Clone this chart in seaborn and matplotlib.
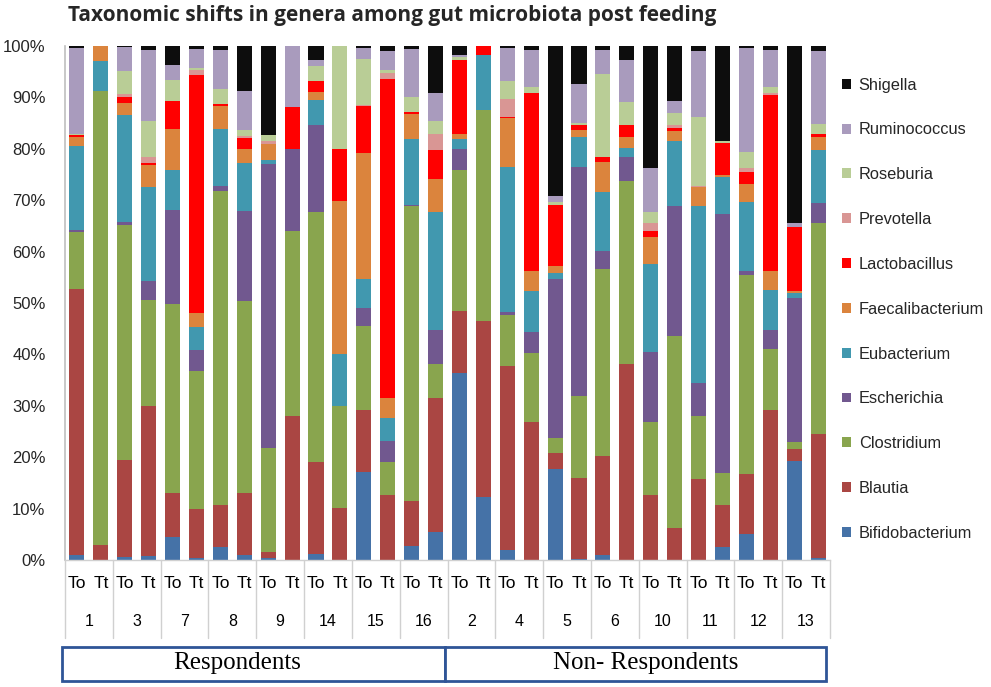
import matplotlib
matplotlib.use("Agg")
import matplotlib.pyplot as plt
import seaborn as sns
import pandas as pd
import numpy as np
from matplotlib.patches import Rectangle

# ---- data ----
patients = ["1", "3", "7", "8", "9", "14", "15", "16",
            "2", "4", "5", "6", "10", "11", "12", "13"]
timepoints = ["To", "Tt"]
groups = ["Respondents", "Non- Respondents"]

genera = ["Bifidobacterium", "Blautia", "Clostridium", "Escherichia", "Eubacterium",
          "Faecalibacterium", "Lactobacillus", "Prevotella", "Roseburia",
          "Ruminococcus", "Shigella"]

bifidobacterium = [1.0, 0, 0.5, 0.7, 4.5, 0.3, 2.5, 1.0, 0.3, 0, 1.1, 0, 17.1, 0, 2.7, 5.4,
                   36.4, 12.3, 2.0, 0, 17.7, 0.2, 0.9, 0, 0, 0, 0, 2.5, 5.0, 0, 19.3, 0.3]
blautia = [51.8, 3.0, 19.0, 29.2, 8.6, 9.7, 8.2, 12.1, 1.2, 28.1, 18.0, 10.1, 12.0, 12.6, 8.7, 26.1,
           12.1, 34.2, 35.8, 26.8, 3.1, 15.8, 19.4, 38.1, 12.6, 6.2, 15.8, 8.2, 11.8, 29.2, 2.2, 24.2]
clostridium = [11.0, 88.3, 45.6, 20.6, 36.8, 26.8, 61.0, 37.2, 20.3, 36.0, 48.7, 19.9, 16.5, 6.5, 57.4, 6.6,
               27.3, 41.1, 9.9, 13.5, 2.9, 15.9, 36.4, 35.7, 14.2, 37.4, 12.2, 6.3, 38.7, 11.9, 1.5, 41.1]
escherichia = [0.4, 0, 0.7, 3.7, 18.2, 4.1, 1.0, 17.6, 55.2, 15.9, 16.9, 0, 3.5, 4.1, 0.3, 6.7,
               4.2, 0, 0.5, 4.0, 30.9, 44.6, 3.5, 4.7, 13.7, 25.2, 6.4, 50.3, 0.7, 3.7, 28.0, 3.9]
eubacterium = [16.3, 5.8, 20.8, 18.3, 7.7, 4.4, 11.2, 9.4, 0.9, 0, 4.8, 10.1, 5.6, 4.5, 12.8, 23.0,
               2.0, 10.6, 28.3, 8.0, 1.3, 5.7, 11.3, 1.6, 17.0, 12.7, 34.5, 7.3, 13.5, 7.8, 1.0, 10.2]
faecalibacterium = [1.7, 2.9, 2.3, 4.3, 8.1, 2.7, 4.4, 2.7, 3.1, 0, 1.6, 29.8, 24.5, 3.8, 4.9, 6.4,
                    0.9, 0, 9.4, 4.0, 1.3, 1.4, 6.0, 2.2, 5.3, 1.9, 3.6, 0.4, 3.5, 3.6, 0.3, 2.6]
lactobacillus = [0.4, 0, 1.2, 0.4, 5.4, 46.4, 0.4, 2.1, 0, 8.1, 2.1, 10.1, 9.2, 62.1, 0.4, 5.5,
                 14.4, 1.8, 0.3, 34.5, 11.8, 1.0, 0.9, 2.3, 1.3, 0.7, 0, 6.2, 2.3, 34.3, 12.5, 0.6]
prevotella = [0, 0, 0.6, 1.2, 0, 0.9, 0, 0.3, 0.5, 0, 0, 0, 0.2, 1.2, 0, 3.1,
              0, 0, 3.5, 0, 0, 0, 0, 0, 1.5, 0.5, 0.3, 0, 0.7, 0.3, 0, 0]
roseburia = [0.3, 0, 4.5, 7.0, 4.0, 0.5, 2.9, 1.2, 1.1, 0, 2.9, 20.0, 8.9, 0.5, 2.9, 2.6,
             0.5, 0, 3.5, 1.3, 0.6, 0.5, 16.2, 4.5, 2.2, 2.4, 13.4, 0.3, 3.2, 1.3, 0, 1.9]
ruminococcus = [16.8, 0, 4.6, 13.9, 3.0, 3.7, 7.7, 7.7, 0, 11.9, 1.1, 0, 2.2, 3.8, 9.4, 5.5,
                0.5, 0, 6.5, 7.1, 1.3, 7.5, 4.7, 8.2, 8.4, 2.3, 12.9, 0, 20.3, 7.2, 0.8, 14.2]
shigella = [0.3, 0, 0.2, 0.7, 3.7, 0.5, 0.7, 8.7, 17.4, 0, 2.8, 0, 0.3, 0.9, 0.5, 9.1,
            1.7, 0, 0.3, 0.8, 29.1, 7.4, 0.7, 2.7, 23.8, 10.7, 0.9, 18.5, 0.3, 0.7, 34.4, 1.0]

series = [bifidobacterium, blautia, clostridium, escherichia, eubacterium, faecalibacterium,
          lactobacillus, prevotella, roseburia, ruminococcus, shigella]

colors = ["#4572A7", "#AA4643", "#89A54E", "#71588F", "#4198AF", "#DB843D",
          "#FF0000", "#D99694", "#B9CD96", "#A99BBD", "#0D0D0D"]

# ---- build table ----
samples = [f"{p} {t}" for p in patients for t in timepoints]
vals = np.array(series, dtype=float)
vals = vals / vals.sum(axis=0) * 100.0
cum = np.cumsum(vals, axis=0)
rows = []
for gi, g in enumerate(genera):
    for si, s in enumerate(samples):
        rows.append({"sample": s, "genus": g, "top": cum[gi, si]})
df = pd.DataFrame(rows)

# ---- figure ----
sns.set_style("white")
plt.rcParams["font.family"] = ["Liberation Sans", "DejaVu Sans"]

fig = plt.figure(figsize=(9.91, 6.87), dpi=100)
L, R, T, B = 65, 830, 46, 560
W, H = 991, 687
ax = fig.add_axes([L / W, 1 - B / H, (R - L) / W, (B - T) / H])

handles = []
for gi in range(len(genera) - 1, -1, -1):
    sub = df[df["genus"] == genera[gi]]
    sns.barplot(data=sub, x="sample", y="top", order=samples, color=colors[gi],
                saturation=1, width=0.63, errorbar=None, linewidth=0, ax=ax)
    handles.append(Rectangle((0, 0), 1, 1, facecolor=colors[gi], edgecolor="none"))

ax.set_xlim(-0.5, len(samples) - 0.5)
ax.set_ylim(0, 100)
ax.set_yticks(np.arange(0, 101, 10))
ax.set_yticklabels([f"{v}%" for v in range(0, 101, 10)], fontsize=12)
ax.tick_params(axis="y", length=0, pad=14)
ax.set_xticks([])
ax.set_xlabel("")
ax.set_ylabel("")
for s in ["top", "right"]:
    ax.spines[s].set_visible(False)
ax.spines["left"].set_color("#BFBFBF")
ax.spines["bottom"].set_color("#D0D0D0")
ax.spines["left"].set_linewidth(1.2)
ax.spines["bottom"].set_linewidth(1.0)

# category axis (two-level labels)
trans = ax.get_xaxis_transform()
y_tt = -(584 - B) / (B - T)
y_num = -(622 - B) / (B - T)
y_sep = -(638 - B) / (B - T)
for si, s in enumerate(samples):
    ax.text(si, y_tt, timepoints[si % 2], transform=trans, ha="center", va="center",
            fontsize=12.5, color="#000000")
for pi, p in enumerate(patients):
    ax.text(2 * pi + 0.5, y_num, p, transform=trans, ha="center", va="center",
            fontsize=11.5, color="#000000")
for k in range(len(patients) + 1):
    xb = 2 * k - 0.5
    ax.plot([xb, xb], [0, y_sep], transform=trans, color="#D0D0D0", lw=1.0, clip_on=False)

# group boxes
box_top, box_bot = 647, 681
xs = [62, 445, 826]
for gi, g in enumerate(groups):
    x0, x1 = xs[gi], xs[gi + 1]
    fig.add_artist(Rectangle((x0 / W, 1 - box_bot / H), (x1 - x0) / W, (box_bot - box_top) / H,
                             transform=fig.transFigure, facecolor="white",
                             edgecolor="#2F5597", linewidth=2.0))
    cx = [237, 646][gi]
    fig.text(cx / W, 1 - 663 / H, g, ha="center", va="center", fontsize=18,
             family=["Liberation Serif", "DejaVu Serif"], color="#000000")

# legend
leg = fig.legend(handles, genera[::-1], loc="upper left",
                 bbox_to_anchor=(835 / W, 1 - 71 / H), frameon=False, fontsize=11.8,
                 handlelength=0.55, handleheight=0.55, handletextpad=0.5,
                 labelspacing=1.82, borderaxespad=0)

fig.text(68 / W, 1 - 16 / H, "Taxonomic shifts in genera among gut microbiota post feeding",
         ha="left", va="center", fontsize=15, fontweight="bold",
         family=["Open Sans", "DejaVu Sans"])

fig.savefig("out.png", dpi=100)
